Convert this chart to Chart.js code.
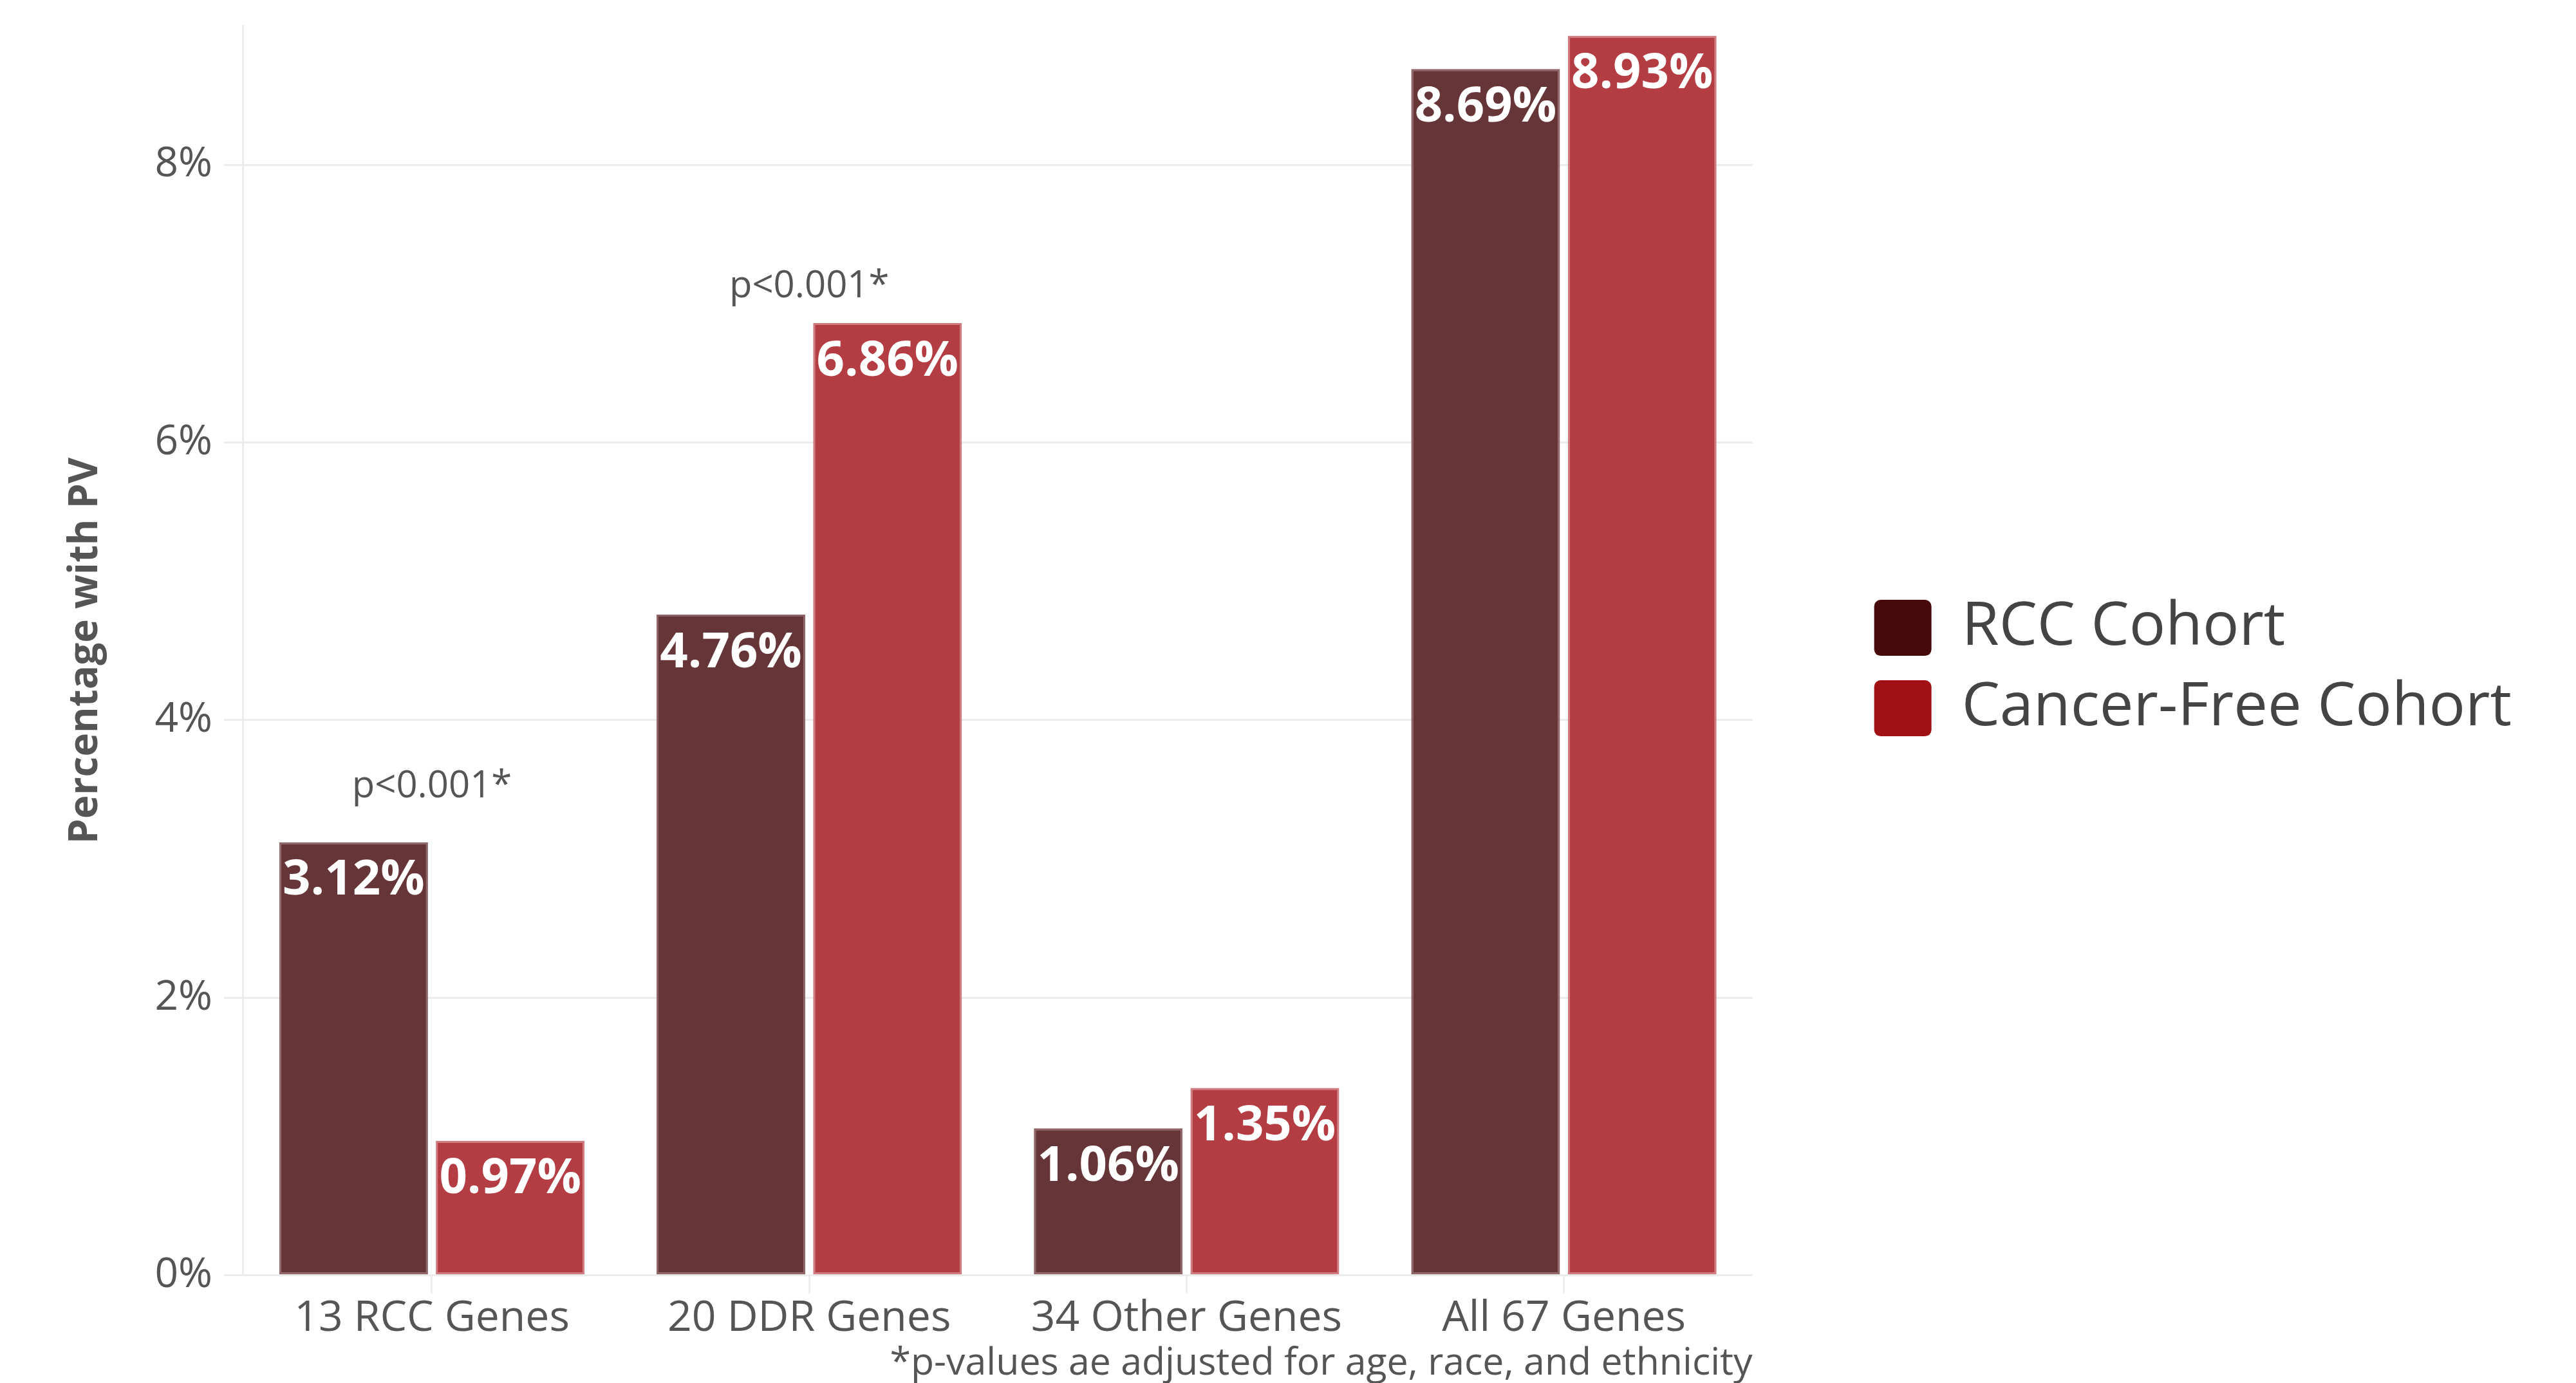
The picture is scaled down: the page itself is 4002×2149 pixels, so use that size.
<!DOCTYPE html>
<html>
<head>
<meta charset="utf-8">
<script src="https://cdn.jsdelivr.net/npm/chart.js@4.4.1/dist/chart.umd.min.js"></script>
<style>
  html, body { margin: 0; padding: 0; background: #fff; }
  #wrap { width: 4002px; height: 2149px; }
</style>
</head>
<body>
<div id="wrap"><canvas id="pvChart"></canvas></div>
<script>
// values
const categories = ['13 RCC Genes', '20 DDR Genes', '34 Other Genes', 'All 67 Genes'];
const seriesNames = ['RCC Cohort', 'Cancer-Free Cohort'];
const rccValues = [3.12, 4.76, 1.06, 8.69];
const cancerFreeValues = [0.97, 6.86, 1.35, 8.93];
const yTicks = [0, 2, 4, 6, 8];

// significance notes: which category, and the level (in %) the text sits at
const pNoteCats = [0, 1];
const pNoteLevels = [3.52, 7.12];
const pNoteText = 'p<0.001*';
const footnote = '*p-values ae adjusted for age, race, and ethnicity';

const barColors = ['#663537', '#b43d43'];
const barEdges = ['#8e6466', '#cf7a7f'];
const legendColors = ['#470a0a', '#a01015'];
const FONT = '"Open Sans", "Noto Sans", sans-serif';

Chart.defaults.font.family = FONT;

// white value labels inside the bars + the p-value notes
const barNotes = {
  id: 'barNotes',
  afterDatasetsDraw(chart) {
    const ctx = chart.ctx;
    ctx.save();
    ctx.textAlign = 'center';
    ctx.textBaseline = 'middle';
    ctx.font = 'bold 76px ' + FONT;
    ctx.fillStyle = '#ffffff';
    chart.data.datasets.forEach((ds, i) => {
      chart.getDatasetMeta(i).data.forEach((bar, j) => {
        ctx.fillText(ds.data[j].toFixed(2) + '%', bar.x, bar.y + 60);
      });
    });
    const xs = chart.scales.x, ys = chart.scales.y;
    ctx.font = '58px ' + FONT;
    ctx.fillStyle = '#555555';
    pNoteCats.forEach((c, k) => {
      ctx.fillText(pNoteText, xs.getPixelForValue(c), ys.getPixelForValue(pNoteLevels[k]));
    });
    ctx.restore();
  }
};

const ctx = document.getElementById('pvChart').getContext('2d');
const pvChart = new Chart(ctx, {
  type: 'bar',
  data: {
    labels: categories,
    datasets: [{
      label: seriesNames[0],
      data: rccValues,
      backgroundColor: barColors[0],
      borderColor: barEdges[0],
      borderWidth: 3,
      borderSkipped: false,
      categoryPercentage: 0.83,
      barPercentage: 0.95
    },
    {
      label: seriesNames[1],
      data: cancerFreeValues,
      backgroundColor: barColors[1],
      borderColor: barEdges[1],
      borderWidth: 3,
      borderSkipped: false,
      categoryPercentage: 0.83,
      barPercentage: 0.95
    }]
  },
  options: {
    responsive: true,
    maintainAspectRatio: false,
    animation: false,
    devicePixelRatio: 1,
    layout: { padding: { top: 24, left: 96, right: 90, bottom: 0 } },
    plugins: {
      tooltip: { enabled: false },
      legend: {
        position: 'right',
        fullSize: false,
        maxWidth: 1200,
        title: { display: true, text: ' ', font: { size: 10 }, padding: { top: 42, bottom: 0 } },
        labels: {
          color: '#444444',
          font: { size: 94 },
          boxWidth: 89,
          boxHeight: 87,
          padding: 31,
          useBorderRadius: true,
          borderRadius: 10,
          generateLabels: chart => seriesNames.map((name, i) => ({
            text: name,
            fillStyle: legendColors[i],
            strokeStyle: legendColors[i],
            lineWidth: 0,
            borderRadius: 10,
            fontColor: '#444444',
            datasetIndex: i,
            hidden: false
          }))
        }
      }
    },
    scales: {
      x: {
        grid: {
          offset: false,
          drawOnChartArea: false,
          tickLength: 28,
          color: '#eeeeee',
          lineWidth: 3
        },
        border: { display: false },
        ticks: { color: '#555555', font: { size: 66 }, padding: 0 },
        title: {
          display: true,
          text: footnote,
          align: 'end',
          color: '#555555',
          font: { size: 59, lineHeight: 1.0 },
          padding: { top: 1, bottom: 0 }
        }
      },
      y: {
        min: 0,
        max: 9,
        afterBuildTicks: s => { s.ticks = yTicks.map(v => ({ value: v })); },
        grid: { color: '#ececec', lineWidth: 3, tickLength: 30 },
        border: { display: true, color: '#ececec', width: 3 },
        ticks: {
          color: '#555555',
          font: { size: 64, lineHeight: 0.7 },
          padding: 18,
          callback: v => v + '%'
        },
        title: {
          display: true,
          text: 'Percentage with PV',
          color: '#555555',
          font: { size: 62, weight: 'bold' },
          padding: { top: 0, bottom: 52 }
        }
      },
      // empty axis on the right, only keeps a gap before the legend
      gap: {
        type: 'linear',
        position: 'right',
        display: true,
        grid: { display: false },
        border: { display: false },
        ticks: { display: false },
        afterFit: s => { s.width = 158; }
      }
    }
  },
  plugins: [barNotes]
});
</script>
</body>
</html>
